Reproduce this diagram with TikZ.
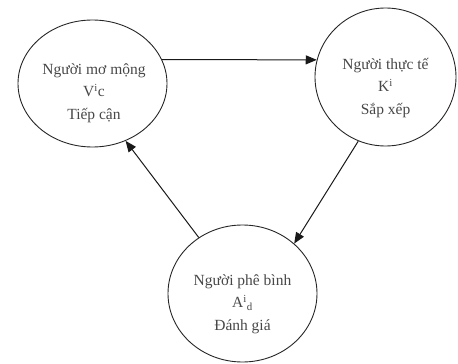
\documentclass[tikz,border=0pt]{standalone}
\usepackage{fontspec}
\setmainfont{Liberation Serif}
\usetikzlibrary{shapes.geometric,arrows.meta}
\begin{document}
\begin{tikzpicture}[x=1pt,y=-1pt,
  role/.style={ellipse,draw=black!85,line width=0.9pt,inner sep=0pt},
  caption/.style={align=center,text=black!72,font=\fontsize{15.5}{22.5}\selectfont},
  flow/.style={draw=black!90,line width=1pt,-{Triangle[length=11pt,width=9pt]}}]
  \useasboundingbox (0,0) rectangle (458,364);
  % the three roles of the creative cycle
  \node[role,minimum width=149pt,minimum height=127pt] (dream) at (92.5,83.5) {};
  \node[role,minimum width=141pt,minimum height=138pt] (real) at (385.5,77) {};
  \node[role,minimum width=149pt,minimum height=137pt] (critic) at (242.5,293.5) {};
  \node[caption] (dreamtxt) at (94,93) {Người mơ mộng\\V\textsuperscript{i}c\\Tiếp cận};
  \node[caption] (realtxt) at (385.5,88) {Người thực tế\\K\textsuperscript{i}\\Sắp xếp};
  \node[caption] (critictxt) at (242.5,304) {Người phê bình\\A\textsuperscript{i}\textsubscript{d}\\Đánh giá};
  % connectors
  \draw[flow] (dream.19) -- (real.166);
  \draw[flow] (real.247) -- (critic.44.5);
  \draw[flow] (critic.128) -- (dream.300);
\end{tikzpicture}
\end{document}
